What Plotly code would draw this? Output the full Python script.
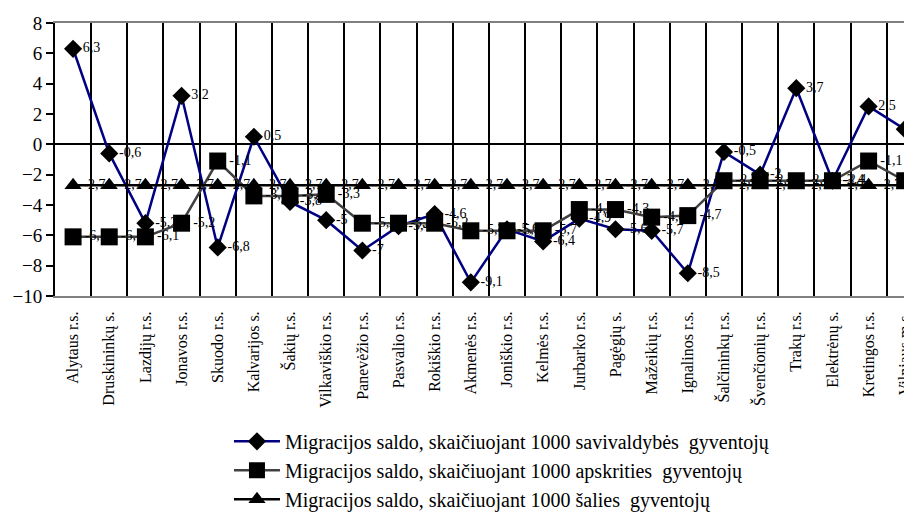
import plotly.graph_objects as go

categories = ["Alytaus r.s.", "Druskininkų s.", "Lazdijų r.s.", "Jonavos r.s.", "Skuodo r.s.",
              "Kalvarijos s.", "Šakių r.s.", "Vilkaviškio r.s.", "Panevėžio r.s.", "Pasvalio r.s.",
              "Rokiškio r.s.", "Akmenės r.s.", "Joniškio r.s.", "Kelmės r.s.", "Jurbarko r.s.",
              "Pagėgių s.", "Mažeikių r.s.", "Ignalinos r.s.", "Šalčininkų r.s.", "Švenčionių r.s.",
              "Trakų r.s.", "Elektrėnų s.", "Kretingos r.s.", "Vilniaus m.s."]

savivaldybes = [6.3, -0.6, -5.2, 3.2, -6.8, 0.5, -3.8, -5.0, -7.0, -5.4,
                -4.6, -9.1, -5.6, -6.4, -4.9, -5.6, -5.7, -8.5, -0.5, -2.0,
                3.7, -2.4, 2.5, 1.0]
apskrities = [-6.1, -6.1, -6.1, -5.2, -1.1, -3.4, -3.4, -3.3, -5.2, -5.2,
              -5.2, -5.7, -5.7, -5.7, -4.3, -4.3, -4.8, -4.7, -2.4, -2.4,
              -2.4, -2.4, -1.1, -2.4]
salies = [-2.7] * 24

names = ["Migracijos saldo, skaičiuojant 1000 savivaldybės  gyventojų",
         "Migracijos saldo, skaičiuojant 1000 apskrities  gyventojų",
         "Migracijos saldo, skaičiuojant 1000 šalies  gyventojų"]

FONT = "Liberation Serif, Times New Roman, serif"


def fmt(v):
    return ("%g" % v).replace(".", ",")


fig = go.Figure()
series = [
    (savivaldybes, names[0], "#000080", "diamond", 14),
    (apskrities, names[1], "#404040", "square", 17),
    (salies, names[2], "#000000", "triangle-up", 15),
]
for i, (vals, nm, col, sym, sz) in enumerate(series):
    fig.add_trace(go.Scatter(
        x=categories, y=vals, name=nm, mode="lines+markers+text",
        line=dict(color=col, width=2.5),
        marker=dict(symbol=sym, size=sz, color="#000000"),
        text=[fmt(v) for v in vals], textposition="middle right",
        textfont=dict(family=FONT, size=14, color="#000000"),
        legendgroup="g%d" % i, cliponaxis=True,
    ))

fig.update_layout(
    width=904, height=505,
    margin=dict(l=47, r=0, t=15, b=217, autoexpand=False),
    paper_bgcolor="white", plot_bgcolor="white",
    font=dict(family=FONT, color="#000000"),
    showlegend=True,
    legend=dict(x=0.203, y=-0.461, xanchor="left", yanchor="top",
                font=dict(family=FONT, size=20), traceorder="grouped",
                tracegroupgap=0, bgcolor="rgba(0,0,0,0)", itemwidth=46),
)
fig.update_xaxes(
    type="category", range=[-0.5, 23.2], tickson="boundaries",
    showgrid=True, gridcolor="#000000", gridwidth=2,
    showline=True, linecolor="#808080", linewidth=2, mirror=True,
    ticks="", tickangle=-90, tickfont=dict(family=FONT, size=16),
    ticklabelstandoff=7, ticklabeloverflow="allow",
)
fig.update_yaxes(
    range=[-10, 8], dtick=2, showgrid=False,
    zeroline=True, zerolinecolor="#000000", zerolinewidth=2,
    showline=True, linecolor="#000000", linewidth=2,
    ticks="outside", ticklen=7, tickwidth=2, tickcolor="#000000",
    tickfont=dict(family=FONT, size=19),
)

fig.write_html("out.html")
